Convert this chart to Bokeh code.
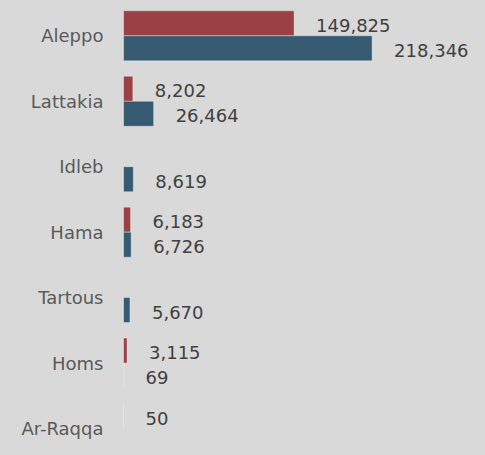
from bokeh.plotting import figure
from bokeh.models import ColumnDataSource, Range1d, FixedTicker, GlobalInlineStyleSheet
from bokeh.core.properties import value
from bokeh.embed import file_html
from bokeh.resources import INLINE

# ---- data ----
categories = ["Aleppo", "Lattakia", "Idleb", "Hama", "Tartous", "Homs", "Ar-Raqqa"]
red_values = [149825, 8202, None, 6183, None, 3115, 50]
blue_values = [218346, 26464, 8619, 6726, 5670, 69, None]

BG = "#d9d9d9"
RED = "#9b4146"
BLUE = "#365a71"
FONT = "DejaVu Sans"

W, H = 469, 439
LEFT = 123
FIRST_PX = 35.3           # centre of the first category, from the top
LAST_PX = 428.0           # centre of the last category, from the top
BAND_PX = (LAST_PX - FIRST_PX) / (len(categories) - 1)
UNITS_PER_PX = 878.3
BAR_PX = 25.0
BAR_H = BAR_PX / BAND_PX


def make_source(vals, shift):
    ys, xs, labels = [], [], []
    for i, v in enumerate(vals):
        if v is None:
            continue
        ys.append(i + shift)
        xs.append(v)
        labels.append(f"{v:,}")
    return ColumnDataSource(dict(y=ys, x=xs, label=labels))


red_src = make_source(red_values, -BAR_H / 2)
blue_src = make_source(blue_values, BAR_H / 2)

top = -FIRST_PX / BAND_PX
bottom = top + H / BAND_PX

p = figure(width=W, height=H, output_backend="svg", toolbar_location=None,
           x_range=Range1d(0, (W - LEFT) * UNITS_PER_PX),
           y_range=Range1d(bottom, top),
           x_axis_location=None,
           min_border_left=LEFT, min_border_right=0, min_border_top=0, min_border_bottom=0,
           background_fill_color=BG, border_fill_color=BG, outline_line_color=None)
p.stylesheets = [GlobalInlineStyleSheet(css=f"body {{ background: {BG}; }}")]

p.xgrid.visible = False
p.ygrid.visible = False

for src, col in ((red_src, RED), (blue_src, BLUE)):
    p.hbar(y="y", right="x", left=0, height=BAR_H, source=src, fill_color=col,
           line_color="white", line_alpha=0.35, line_width=1)
    p.text(x="x", y="y", text="label", source=src, x_offset=22, y_offset=2,
           text_align="left", text_baseline="middle", text_font=value(FONT),
           text_font_size="18px", text_color="#404040")

yax = p.yaxis[0]
yax.ticker = FixedTicker(ticks=list(range(len(categories))))
yax.major_label_overrides = {i: c for i, c in enumerate(categories)}
yax.major_label_text_font = FONT
yax.major_label_text_font_size = "18px"
yax.major_label_text_color = "#5a5a5a"
yax.major_label_standoff = 20
yax.major_tick_line_color = None
yax.minor_tick_line_color = None
yax.major_tick_out = 0
yax.major_tick_in = 0
yax.axis_line_color = None

open("out.html", "w").write(file_html(p, INLINE))
